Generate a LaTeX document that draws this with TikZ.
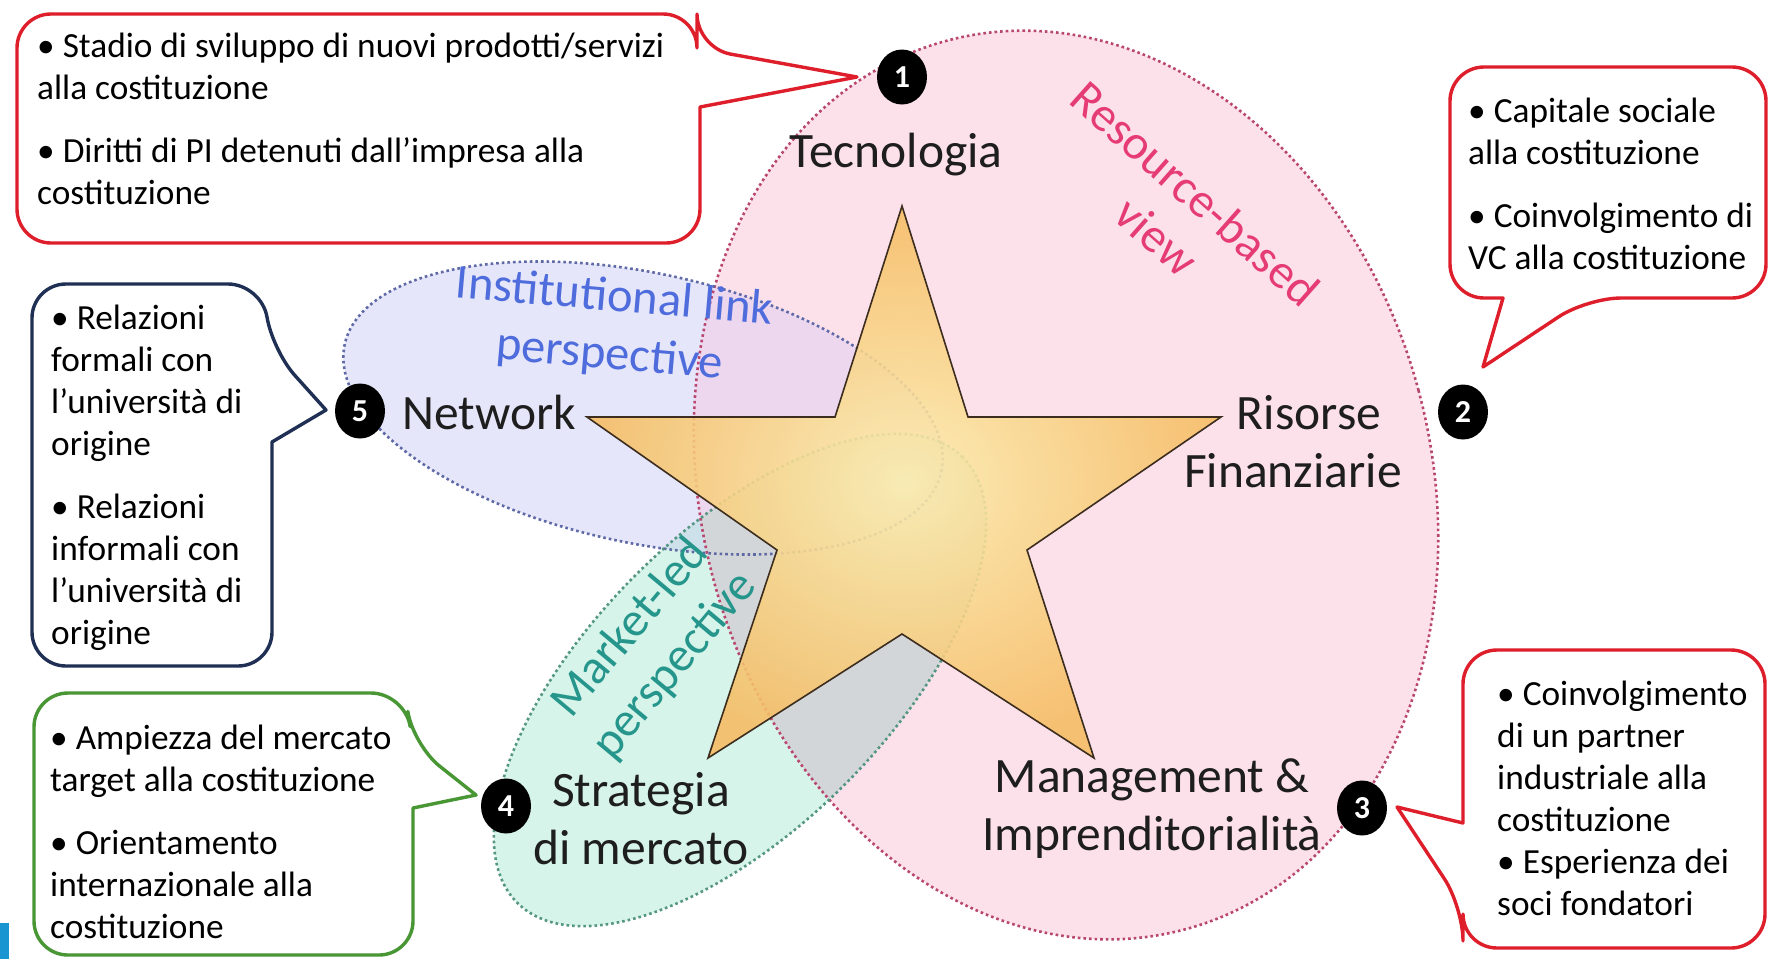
\documentclass[tikz,border=0pt]{standalone}
\usepackage{fontspec}
\usetikzlibrary{shapes.geometric}
\setmainfont{Carlito}
\definecolor{pinkfill}{RGB}{252,225,235}
\definecolor{bluefill}{RGB}{230,230,250}
\definecolor{greenfill}{RGB}{214,244,233}
\definecolor{pbov}{RGB}{236,215,238}
\definecolor{bgov}{RGB}{205,225,234}
\definecolor{pgov}{RGB}{211,214,216}
\definecolor{pinkline}{RGB}{185,70,110}
\definecolor{blueline}{RGB}{95,105,165}
\definecolor{greenline}{RGB}{85,150,130}
\definecolor{starin}{RGB}{252,238,175}
\definecolor{starout}{RGB}{246,188,98}
\definecolor{starline}{RGB}{60,45,30}
\definecolor{redc}{RGB}{222,30,42}
\definecolor{navyc}{RGB}{32,48,84}
\definecolor{greenc}{RGB}{72,150,52}
\definecolor{rbvcol}{RGB}{230,60,118}
\definecolor{instcol}{RGB}{78,108,220}
\definecolor{mktcol}{RGB}{38,150,140}
\definecolor{labelcol}{RGB}{30,30,30}
\definecolor{stripcol}{RGB}{25,150,210}
\begin{document}
\begin{tikzpicture}[x=1pt,y=-1pt,
  callout/.style={line width=3.4pt, fill=white, line join=round},
  badge/.style={ellipse, fill=black, text=white, minimum width=50pt, minimum height=55pt, inner sep=0pt, font=\fontsize{32}{32}\selectfont\bfseries},
  biglabel/.style={font=\fontsize{49.5}{58}\selectfont, text=labelcol, align=center, inner sep=0pt},
  calltext/.style={font=\fontsize{35.3}{42}\selectfont, align=left, anchor=north west, inner sep=0pt, text=black},
  persp/.style={font=\fontsize{48.5}{58}\selectfont, align=center, inner sep=0pt},
  ellborder/.style={line width=2.6pt, dash pattern=on 2.6pt off 3pt},
  pinkE/.style={rotate around={15:(1066,485)}},
  blueE/.style={rotate around={-12:(643,408)}},
  greenE/.style={rotate around={45:(740,680)}}
]
\useasboundingbox (0,0) rectangle (1769,959);
\fill[white] (0,0) rectangle (1769,959);

% ellipse fills
\fill[pinkfill, pinkE] (1066,485) ellipse [x radius=365pt, y radius=460pt];
\fill[bluefill, blueE] (643,408) ellipse [x radius=305pt, y radius=135pt];
\fill[greenfill, greenE] (740,680) ellipse [x radius=315pt, y radius=148pt];
% overlaps
\begin{scope}
  \clip[pinkE] (1066,485) ellipse [x radius=365pt, y radius=460pt];
  \fill[pbov, blueE] (643,408) ellipse [x radius=305pt, y radius=135pt];
\end{scope}
\begin{scope}
  \clip[blueE] (643,408) ellipse [x radius=305pt, y radius=135pt];
  \fill[bgov, greenE] (740,680) ellipse [x radius=315pt, y radius=148pt];
\end{scope}
\begin{scope}
  \clip[pinkE] (1066,485) ellipse [x radius=365pt, y radius=460pt];
  \fill[pgov, greenE] (740,680) ellipse [x radius=315pt, y radius=148pt];
\end{scope}
% ellipse borders
\draw[ellborder, pinkline, pinkE] (1066,485) ellipse [x radius=365pt, y radius=460pt];
\draw[ellborder, blueline, blueE] (643,408) ellipse [x radius=305pt, y radius=135pt];
\draw[ellborder, greenline, greenE] (740,680) ellipse [x radius=315pt, y radius=148pt];

% star
\coordinate (sT) at (902,206);
\coordinate (sR) at (1221,417);
\coordinate (sBR) at (1094,758);
\coordinate (sBL) at (708,758);
\coordinate (sL) at (587,417);
\shade[inner color=starin, outer color=starout, opacity=0.88]
  (sT) -- (968,417) -- (sR) -- (1027,550) -- (sBR) -- (902,634) -- (sBL) -- (777,550) -- (sL) -- (835,417) -- cycle;
\draw[starline, line width=1.6pt, line join=miter]
  (sT) -- (968,417) -- (sR) -- (1027,550) -- (sBR) -- (902,634) -- (sBL) -- (777,550) -- (sL) -- (835,417) -- cycle;

% perspective labels
\node[persp, text=rbvcol, rotate=-41.5] (rbv) at (1176,215) {Resource-based\\view};
\node[persp, text=instcol, rotate=-5] (inst) at (612,327) {Institutional link\\perspective};
\node[persp, text=mktcol, rotate=50] (mkt) at (653,647) {Market-led\\perspective};

% main labels
\node[biglabel] (tec) at (896,155) {Tecnologia};
\node[biglabel] (net) at (489,412) {Network};
\node[biglabel] (ris) at (1293,442) {\hspace*{32pt}Risorse\\Finanziarie};
\node[biglabel] (str) at (641,819) {Strategia\\di mercato};
\node[biglabel] (man) at (1152,809) {Management \&\\Imprenditorialità};

% badges
\node[badge] (b1) at (902,77) {1};
\node[badge] (b2) at (1463,412) {2};
\node[badge] (b3) at (1362,808) {3};
\node[badge] (b4) at (506,806) {4};
\node[badge] (b5) at (360,411) {5};

% callout 1
\coordinate (t1) at (857,77);
\draw[callout, draw=redc, rounded corners=34pt] (17,14) -- (697,14) -- (697,48) [sharp corners] -- (t1) -- (700,107) [rounded corners=34pt] -- (700,243) -- (17,243) -- cycle;
\node[calltext] (c1) at (37,28) {\strut• Stadio di sviluppo di nuovi prodotti/servizi\\alla costituzione\\[21pt]• Diritti di PI detenuti dall’impresa alla\\costituzione};

% callout 2
\coordinate (t2) at (1483,367);
\draw[callout, draw=redc, rounded corners=34pt] (1450,67) -- (1766,67) -- (1766,298) -- (1587,298) [sharp corners] -- (t2) -- (1503,298) [rounded corners=34pt] -- (1450,298) -- cycle;
\node[calltext] (c2) at (1468,93) {\strut• Capitale sociale\\alla costituzione\\[21pt]• Coinvolgimento di\\VC alla costituzione};

% callout 3
\coordinate (t3) at (1397,807);
\draw[callout, draw=redc, rounded corners=34pt] (1463,650) -- (1765,650) -- (1765,948) -- (1463,948) -- (1463,907) [sharp corners] -- (t3) -- (1463,823) [rounded corners=34pt] -- cycle;
\node[calltext] (c3) at (1497,676) {\strut• Coinvolgimento\\di un partner\\industriale alla\\costituzione\\• Esperienza dei\\soci fondatori};

% callout 4
\coordinate (t4) at (476,795);
\draw[callout, draw=greenc, rounded corners=34pt] (34,693) -- (405,693) -- (413,745) [sharp corners] -- (t4) -- (413,808) [rounded corners=34pt] -- (413,955) -- (34,955) -- cycle;
\node[calltext] (c4) at (50,720) {\strut• Ampiezza del mercato\\target alla costituzione\\[21pt]• Orientamento\\internazionale alla\\costituzione};

% callout 5
\coordinate (t5) at (326,410);
\draw[callout, draw=navyc, rounded corners=34pt] (32,284) -- (262,284) -- (272,350) [sharp corners] -- (t5) -- (272,442) [rounded corners=34pt] -- (272,666) -- (32,666) -- cycle;
\node[calltext] (c5) at (51,300) {\strut• Relazioni\\formali con\\l’università di\\origine\\[21pt]• Relazioni\\informali con\\l’università di\\origine};

% strip
\fill[stripcol] (0,923) rectangle (9,959);
\end{tikzpicture}
\end{document}
